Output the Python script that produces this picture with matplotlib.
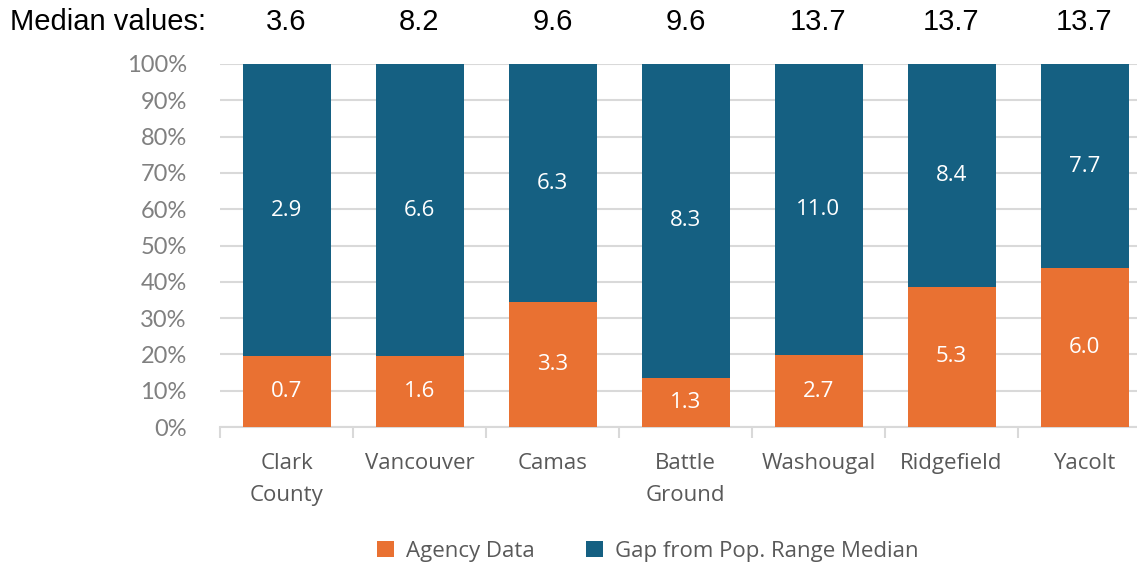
import matplotlib.pyplot as plt
import numpy as np

# Data
categories = ['Clark\nCounty', 'Vancouver', 'Camas', 'Battle\nGround', 'Washougal', 'Ridgefield', 'Yacolt']
agency_data = [0.7, 1.6, 3.3, 1.3, 2.7, 5.3, 6.0]
gap_values = [2.9, 6.6, 6.3, 8.3, 11.0, 8.4, 7.7]
median_values = ['3.6', '8.2', '9.6', '9.6', '13.7', '13.7', '13.7']
y_ticks = [0, 10, 20, 30, 40, 50, 60, 70, 80, 90, 100]

orange = '#E97132'
blue = '#156082'
gray_text = '#595959'

W, H = 1137, 566
fig = plt.figure(figsize=(W / 100, H / 100), dpi=100)

# axes extends a little past the right edge, as in the original (clipped)
left_px, right_px = 220, 1151
top_px, bottom_px = 64, 427
ax = fig.add_axes([left_px / W, 1 - bottom_px / H,
                   (right_px - left_px) / W, (bottom_px - top_px) / H])

agency = np.array(agency_data)
gap = np.array(gap_values)
total = agency + gap
agency_pct = agency / total * 100
gap_pct = gap / total * 100

x = np.arange(len(categories))
bar_w = 88 / 133

ax.bar(x, agency_pct, width=bar_w, color=orange, label='Agency Data', zorder=3)
ax.bar(x, gap_pct, width=bar_w, bottom=agency_pct, color=blue,
       label='Gap from Pop. Range Median', zorder=3)

# value labels inside the segments
for i in range(len(x)):
    ax.text(x[i], agency_pct[i] / 2, f'{agency[i]:.1f}', ha='center', va='center',
            color='white', fontsize=16, family='Open Sans', zorder=4)
    ax.text(x[i], agency_pct[i] + gap_pct[i] / 2, f'{gap[i]:.1f}', ha='center', va='center',
            color='white', fontsize=16, family='Open Sans', zorder=4)

ax.set_xlim(-0.5, len(categories) - 0.5)
ax.set_ylim(0, 100)
ax.set_yticks(y_ticks)
ax.set_yticklabels([f'{t}%' for t in y_ticks])
ax.grid(axis='y', color='#D9D9D9', linewidth=1.5, zorder=0)
ax.set_axisbelow(True)

for s in ['left', 'right', 'top']:
    ax.spines[s].set_visible(False)
ax.spines['bottom'].set_color('#D9D9D9')
ax.spines['bottom'].set_linewidth(1.5)

ax.tick_params(axis='y', length=0, pad=24, labelsize=17, labelcolor='#808080')
for lbl in ax.get_yticklabels():
    lbl.set_family('Lato')

# category labels centered, tick marks at category boundaries
ax.set_xticks(x)
ax.set_xticklabels(categories, fontsize=16, color=gray_text, family='Open Sans',
                   linespacing=1.65)
ax.tick_params(axis='x', length=0, pad=19)
ax.set_xticks(np.arange(len(categories) + 1) - 0.5, minor=True)
ax.tick_params(axis='x', which='minor', length=8, width=1.5, color='#D9D9D9')

# median values row above the chart
for i in range(len(x)):
    xpix = ax.transData.transform((x[i], 0))[0]
    fig.text(xpix / W, 1 - 22 / H, median_values[i],
             ha='center', va='center', fontsize=21, family='Liberation Sans', color='black')
fig.text(10 / W, 1 - 22 / H, 'Median values:', ha='left', va='center',
         fontsize=21, family='Liberation Sans', color='black')

leg = fig.legend(loc='center', bbox_to_anchor=(648 / W, 1 - 551 / H), ncol=2,
                 frameon=False, handlelength=0.75, handleheight=0.75,
                 columnspacing=2.3, handletextpad=0.55,
                 prop={'family': 'Open Sans', 'size': 16})
for t in leg.get_texts():
    t.set_color(gray_text)

fig.savefig('out.png', dpi=100)
